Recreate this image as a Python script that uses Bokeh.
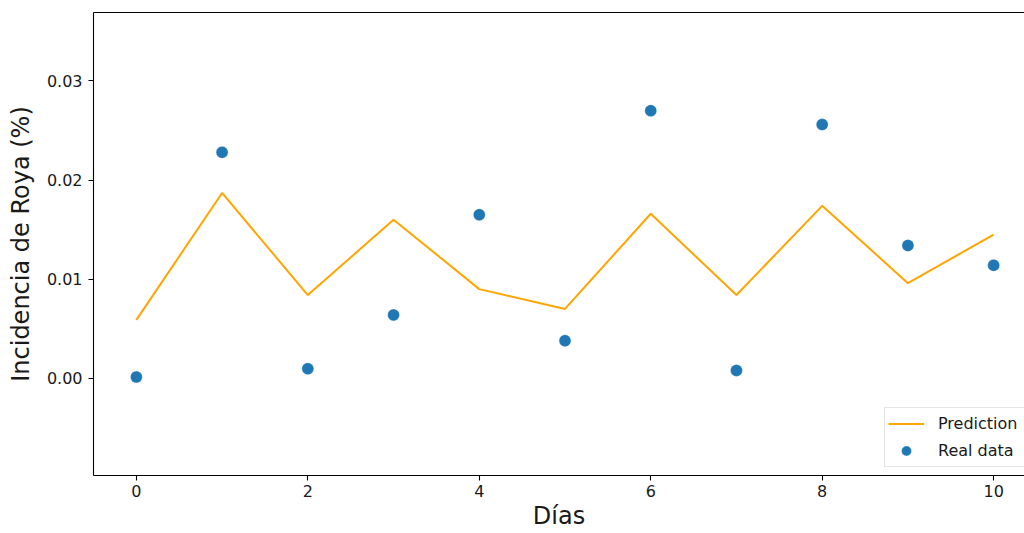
from bokeh.plotting import figure
from bokeh.models import (Range1d, LinearAxis, FixedTicker, PrintfTickFormatter,
                          Legend, LegendItem)
from bokeh.embed import file_html
from bokeh.resources import INLINE

dias = [0, 1, 2, 3, 4, 5, 6, 7, 8, 9, 10]
prediction = [0.0059, 0.0187, 0.0084, 0.0160, 0.0090, 0.0070, 0.0166, 0.0084, 0.0174, 0.0096, 0.0145]
real_data = [0.00013, 0.0228, 0.00097, 0.0064, 0.0165, 0.0038, 0.0270, 0.0008, 0.0256, 0.0134, 0.0114]
x_ticks = [0, 2, 4, 6, 8, 10]
y_ticks = [0.0, 0.01, 0.02, 0.03]

FONT = "DejaVu Sans"

p = figure(width=1024, height=533, output_backend="svg", toolbar_location=None,
           x_range=Range1d(-0.5, 10.36), y_range=Range1d(-0.0098, 0.0369),
           x_axis_location=None, y_axis_location=None,
           min_border_left=93, min_border_right=0, min_border_top=12, min_border_bottom=58)
p.outline_line_color = None
p.grid.visible = False
p.background_fill_color = "white"
p.border_fill_color = "white"

def style_axis(ax, ticks, fmt=None):
    ax.ticker = FixedTicker(ticks=ticks)
    if fmt:
        ax.formatter = PrintfTickFormatter(format=fmt)
    ax.axis_line_color = "black"
    ax.axis_line_width = 1.1
    ax.major_tick_line_color = "black"
    ax.major_tick_line_width = 1.1
    ax.major_tick_out = 5
    ax.major_tick_in = 0
    ax.minor_tick_line_color = None
    ax.major_label_text_font = FONT
    ax.major_label_text_font_size = "16px"
    ax.major_label_text_color = "#1a1a1a"
    ax.axis_label_text_font = FONT
    ax.axis_label_text_font_size = "24px"
    ax.axis_label_text_font_style = "normal"
    ax.axis_label_text_color = "#1a1a1a"

xaxis = LinearAxis(axis_label="Días")
style_axis(xaxis, x_ticks)
xaxis.major_label_standoff = 4
xaxis.axis_label_standoff = 2
p.add_layout(xaxis, "below")

yaxis = LinearAxis(axis_label="Incidencia de Roya (%)")
style_axis(yaxis, y_ticks, "%.2f")
yaxis.major_label_standoff = 6
yaxis.axis_label_standoff = 9
p.add_layout(yaxis, "left")

top = LinearAxis(ticker=FixedTicker(ticks=[]), major_label_text_font_size="0px")
top.axis_line_color = "black"
top.axis_line_width = 1.1
top.major_tick_line_color = None
top.minor_tick_line_color = None
p.add_layout(top, "above")

ln = p.line(dias, prediction, line_color="orange", line_width=2)
sc = p.scatter(dias, real_data, size=12, fill_color="#1f77b4", line_color="white",
               line_width=0.5, line_alpha=0.6)

legend = Legend(items=[LegendItem(label="Prediction", renderers=[ln]),
                       LegendItem(label="Real data", renderers=[sc])],
                location=(791, 8))
legend.label_text_font = FONT
legend.label_text_font_size = "16px"
legend.label_text_color = "#1a1a1a"
legend.glyph_width = 36
legend.glyph_height = 25
legend.label_standoff = 14
legend.label_width = 110
legend.spacing = 2
legend.padding = 3
legend.margin = 0
legend.border_line_color = "#cccccc"
legend.border_line_width = 1
legend.background_fill_alpha = 0.8
p.add_layout(legend, "center")

open("out.html", "w").write(file_html(p, INLINE))
